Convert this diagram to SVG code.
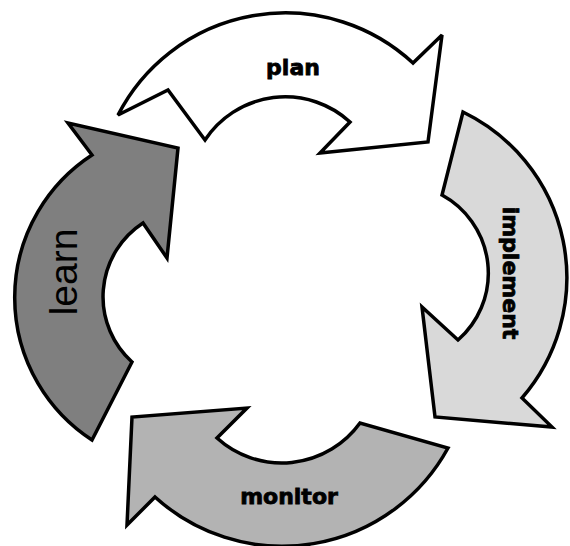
<svg xmlns="http://www.w3.org/2000/svg" width="570" height="546" viewBox="0 0 570 546">
<style>
.arrow{stroke:#000;stroke-width:3.5;stroke-linejoin:miter;stroke-miterlimit:3}
.lbl{font-family:"DejaVu Sans",sans-serif;font-weight:bold;font-size:22px;fill:#000;stroke:#000;stroke-width:0.8;text-anchor:middle}
.thin{font-family:"Liberation Sans",Arial,sans-serif;font-size:39px;fill:#000;text-anchor:middle}
</style>
<rect width="570" height="546" fill="#fff"/>
<g id="plan">
<path class="arrow" fill="#ffffff" d="M118,115 A188,188 0 0 1 413,63 L442,35 L428,142 L320,153 L350,122 A96,96 0 0 0 205,140 L168,90 Z"/>
<text class="lbl" x="293" y="75">plan</text>
</g>
<g id="implement">
<path class="arrow" fill="#d9d9d9" d="M463,112 A184,184 0 0 1 522,398 L552,427 L435,417 L422,307 L458,340 A89,89 0 0 0 442,195 Z"/>
<text class="lbl" transform="translate(503,273) rotate(90)" x="0" y="0">implement</text>
</g>
<g id="monitor">
<path class="arrow" fill="#b3b3b3" d="M448,448 A189,189 0 0 1 155,497 L127,525 L132,417 L247,408 L217,438 A96.5,96.5 0 0 0 360,423 Z"/>
<text class="lbl" x="289" y="504">monitor</text>
</g>
<g id="learn">
<path class="arrow" fill="#7f7f7f" d="M92,440 A170,170 0 0 1 92,155 L68,123 L178,148 L167,258 L143,223 A88,88 0 0 0 132,362 Z"/>
<text class="thin" transform="translate(77,272) rotate(-90)" x="0" y="0">learn</text>
</g>
<g id="connectors"></g>
</svg>
